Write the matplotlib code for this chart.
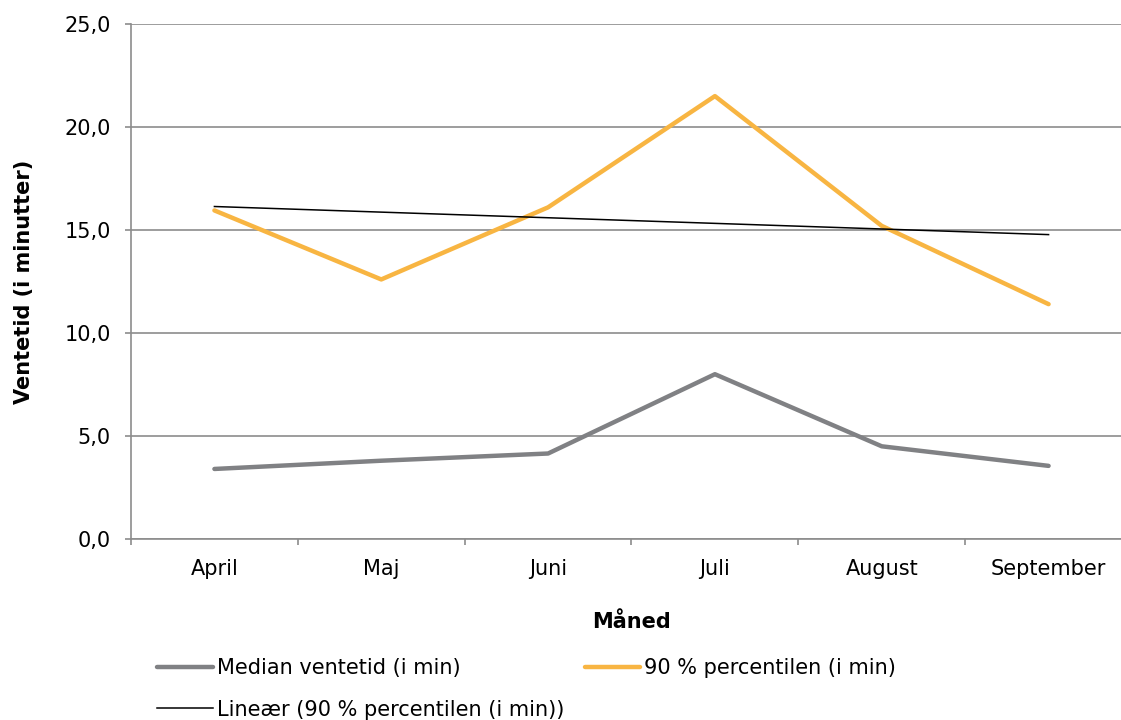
import numpy as np
import matplotlib
matplotlib.use("Agg")
import matplotlib.pyplot as plt
from matplotlib.ticker import FuncFormatter

# Månedlige ventetider (minutter)
months = ["April", "Maj", "Juni", "Juli", "August", "September"]
median_wait = [3.4, 3.8, 4.15, 8.0, 4.5, 3.55]
p90_wait = [15.95, 12.6, 16.1, 21.5, 15.2, 11.4]

GRAY = "#808184"
ORANGE = "#F8B542"
AXIS_GRAY = "#8c8c8c"
FS = 15

plt.rcParams["font.family"] = ["DejaVu Sans"]

fig = plt.figure(figsize=(11.21, 7.2), dpi=100)
ax = fig.add_axes([131 / 1121, 181 / 720, 1001 / 1121, 515 / 720])

x = np.arange(len(months))

# lineær trend på 90 % percentilen
slope, intercept = np.polyfit(x, p90_wait, 1)
trend = slope * x + intercept

l_med, = ax.plot(x, median_wait, color=GRAY, lw=3.2, solid_capstyle="round",
                 label="Median ventetid (i min)", zorder=3)
l_p90, = ax.plot(x, p90_wait, color=ORANGE, lw=3.2, solid_capstyle="round",
                 label="90 % percentilen (i min)", zorder=3)
l_lin, = ax.plot(x, trend, color="black", lw=1.1,
                 label="Lineær (90 % percentilen (i min))", zorder=4)

ax.set_xlim(-0.5, len(months) - 0.5)
ax.set_ylim(0, 25)
ax.set_yticks(np.arange(0, 26, 5))
ax.yaxis.set_major_formatter(FuncFormatter(lambda v, p: f"{v:.1f}".replace(".", ",")))

ax.set_xticks(x)
ax.set_xticklabels(months)
ax.set_xticks(np.arange(-0.5, len(months), 1), minor=True)
ax.tick_params(axis="x", which="major", length=0, pad=14.5, labelsize=FS)
ax.tick_params(axis="x", which="minor", length=4.5, color=AXIS_GRAY, width=1.2)
ax.tick_params(axis="y", length=4, color=AXIS_GRAY, width=1.2, pad=10.5, labelsize=FS)

ax.yaxis.grid(True, color=AXIS_GRAY, lw=1.2)
ax.set_axisbelow(True)
for s in ["top", "right"]:
    ax.spines[s].set_visible(False)
for s in ["left", "bottom"]:
    ax.spines[s].set_color(AXIS_GRAY)
    ax.spines[s].set_linewidth(1.2)

ax.set_xlabel("Måned", fontsize=FS, fontweight="bold", labelpad=23.5)
ax.set_ylabel("Ventetid (i minutter)", fontsize=FS, fontweight="bold", labelpad=22)

fig.legend(handles=[l_med, l_lin, l_p90], ncol=2, frameon=False, fontsize=FS,
           loc="upper left", bbox_to_anchor=(149 / 1121, 1 - 650 / 720),
           handlelength=2.65, handletextpad=0.2, columnspacing=1.0,
           labelspacing=1.02, borderaxespad=0)

fig.savefig("out.png", dpi=100)
